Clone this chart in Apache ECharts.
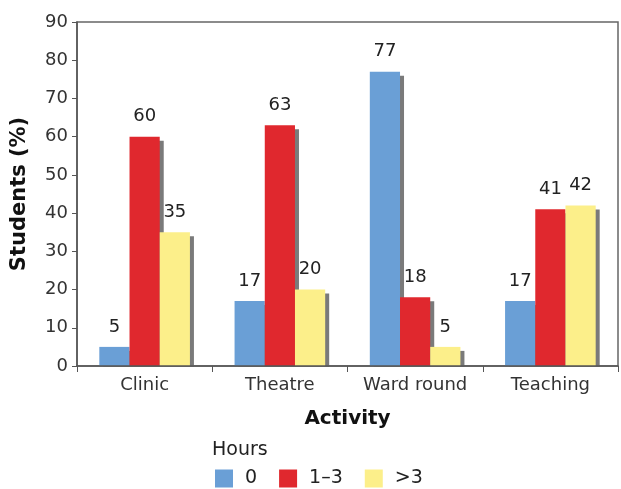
<!DOCTYPE html>
<html><head><meta charset="utf-8">
<script src="https://cdn.jsdelivr.net/npm/echarts@6/dist/echarts.min.js"></script>
<style>html,body{margin:0;padding:0;background:#fff}#c{width:621px;height:489px}</style>
</head><body><div id="c"></div>
<script>
const categories = ['Clinic', 'Theatre', 'Ward round', 'Teaching'];
const seriesNames = ['0', '1\u20133', '>3'];
const hours0 = [5, 17, 77, 17];
const hours1to3 = [60, 63, 18, 41];
const hoursOver3 = [35, 20, 5, 42];
const yTicks = [0, 10, 20, 30, 40, 50, 60, 70, 80, 90];
const colors = ['#6a9fd6', '#e0282e', '#fcef8a'];

const font = 'DejaVu Sans, Verdana, sans-serif';
const chart = echarts.init(document.getElementById('c'), null, {renderer: 'canvas'});
const data = [hours0, hours1to3, hoursOver3];
chart.setOption({
  animation: false,
  textStyle: {fontFamily: font},
  title: {text: 'Hours', left: 212, top: 441, padding: 0, textStyle: {fontFamily: font, fontSize: 19, fontWeight: 'normal', color: '#222'}},
  legend: {
    data: seriesNames, left: 215, top: 469, padding: 0, itemWidth: 18, itemHeight: 18, itemGap: 22,
    icon: 'rect',
    textStyle: {fontFamily: font, fontSize: 19, color: '#222', padding: [0, 0, 0, 7]}
  },
  graphic: [{
    type: 'rect', z: 5, silent: true,
    shape: {x: 78, y: 367, width: 540, height: 8},
    style: {fill: '#fff'}
  }],
  grid: {left: 77, right: 3, top: 22, bottom: 123, show: true, borderColor: '#666', borderWidth: 1.5, backgroundColor: 'transparent'},
  xAxis: {
    type: 'category', data: categories, z: 10,
    name: 'Activity', nameLocation: 'middle', nameGap: 43,
    nameTextStyle: {fontFamily: font, fontSize: 20, fontWeight: 'bold', color: '#111'},
    axisLine: {lineStyle: {color: '#555', width: 1.5}},
    axisTick: {show: true, interval: 0, length: 6, lineStyle: {color: '#555'}},
    axisLabel: {interval: 0, fontFamily: font, fontSize: 18, color: '#333', margin: 10}
  },
  yAxis: {
    type: 'value', min: yTicks[0], max: yTicks[yTicks.length - 1], interval: 10, z: 10,
    name: 'Students (%)', nameLocation: 'middle', nameGap: 47,
    nameTextStyle: {fontFamily: font, fontSize: 21, fontWeight: 'bold', color: '#111'},
    axisLine: {show: true, lineStyle: {color: '#555', width: 1.5}},
    axisTick: {show: true, length: 5, lineStyle: {color: '#555'}},
    splitLine: {show: false},
    axisLabel: {fontFamily: font, fontSize: 18, color: '#333', margin: 9}
  },
  series: seriesNames.map((n, i) => ({
    name: n, type: 'bar', data: data[i],
    barGap: '0%', barCategoryGap: '33%',
    itemStyle: {color: colors[i], shadowColor: '#7a7a7a', shadowOffsetX: 4, shadowOffsetY: 4, shadowBlur: 0},
    label: {show: true, position: 'top', distance: 11, fontFamily: font, fontSize: 18, color: '#222'}
  }))
});
</script></body></html>
